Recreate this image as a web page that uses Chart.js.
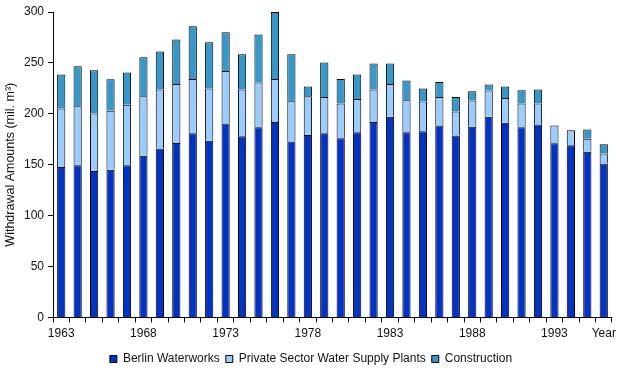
<!DOCTYPE html>
<html>
<head>
<meta charset="utf-8">
<script src="https://cdn.jsdelivr.net/npm/chart.js@4/dist/chart.umd.min.js"></script>
<style>
  html, body { margin: 0; padding: 0; background: #fff; }
  #wrap { width: 620px; height: 368px; position: relative; }
</style>
</head>
<body>
<div id="wrap"><canvas id="c" width="620" height="368"></canvas></div>
<script>
'use strict';

// Withdrawal amounts per year, mil. m3
const years = [1963, 1964, 1965, 1966, 1967, 1968, 1969, 1970, 1971, 1972,
  1973, 1974, 1975, 1976, 1977, 1978, 1979, 1980, 1981, 1982,
  1983, 1984, 1985, 1986, 1987, 1988, 1989, 1990, 1991, 1992,
  1993, 1994, 1995, 1996];
const tickYears = [1963, 1968, 1973, 1978, 1983, 1988, 1993];
const lastTickText = 'Year';

const berlin = [147.7, 149.4, 143.8, 145.1, 149.4, 158.9, 165.8, 171.3, 180.8, 173.6,
  190.4, 177.9, 186.7, 192.0, 172.7, 179.2, 180.8, 175.9, 181.8, 192.0,
  197.2, 181.8, 182.8, 188.4, 178.6, 187.4, 197.2, 191.3, 186.7, 189.4,
  171.0, 169.0, 162.8, 151.3];
const privateSector = [57.4, 58.0, 56.4, 58.0, 59.6, 58.3, 58.0, 58.0, 53.4, 51.2,
  51.7, 45.9, 44.0, 42.2, 39.6, 38.0, 35.7, 34.1, 32.8, 31.8,
  32.1, 31.4, 29.2, 28.1, 23.6, 25.6, 25.6, 24.2, 23.3, 20.6,
  17.4, 14.8, 12.8, 9.6];
const construction = [33.4, 39.3, 42.6, 30.8, 31.5, 38.4, 37.4, 43.6, 51.8, 45.4,
  38.0, 34.7, 47.2, 65.9, 46.2, 9.5, 33.8, 24.2, 23.9, 25.5,
  20.0, 19.6, 12.8, 14.8, 14.3, 9.1, 5.9, 11.2, 13.1, 13.8,
  0, 0, 8.9, 9.1];

const FONT = 'Arial, "Liberation Sans", sans-serif';

const labels = years.map((y, i) => {
  if (i === years.length - 1) return lastTickText;
  return tickYears.includes(y) ? String(y) : '';
});

const common = { borderColor: '#000', borderWidth: 1, barPercentage: 0.5, categoryPercentage: 1 };

new Chart(document.getElementById('c').getContext('2d'), {
  type: 'bar',
  data: {
    labels,
    datasets: [
      { label: 'Berlin Waterworks', data: berlin, backgroundColor: '#0033CC', ...common },
      { label: 'Private Sector Water Supply Plants', data: privateSector, backgroundColor: '#99CCFF', ...common },
      { label: 'Construction', data: construction, backgroundColor: '#3399CC', ...common },
    ]
  },
  options: {
    responsive: false,
    animation: false,
    // negative bottom pad: the legend's built-in extra 10px would push the plot up
    // left pad 10 only to centre the legend like the original
    layout: { padding: { top: 12, right: 8, left: 10, bottom: -7 } },
    plugins: {
      tooltip: { enabled: false },
      legend: {
        position: 'bottom',
        labels: {
          boxWidth: 7, boxHeight: 7, padding: 6,
          color: '#111',
          font: { family: FONT, size: 12 }
        }
      }
    },
    scales: {
      x: {
        stacked: true,
        grid: { display: true, drawOnChartArea: false, offset: true, tickLength: 5, color: '#000' },
        border: { color: '#000', width: 1 },
        ticks: {
          autoSkip: false, maxRotation: 0, padding: 4,
          color: '#111', font: { family: FONT, size: 12 }
        },
        afterFit: axis => { axis.height = 29.6; }
      },
      y: {
        stacked: true,
        min: 0, max: 300,
        grid: { display: true, drawOnChartArea: false, tickLength: 5, color: '#000' },
        border: { color: '#000', width: 1 },
        ticks: { stepSize: 50, padding: 4, color: '#111', font: { family: FONT, size: 12 } },
        title: {
          display: true, text: 'Withdrawal Amounts (mil. m³)',
          color: '#111', font: { family: FONT, size: 12.5 }, padding: { top: -7, bottom: 0 }
        },
        afterFit: axis => { axis.width = 43; }
      }
    }
  }
});
</script>
</body>
</html>
